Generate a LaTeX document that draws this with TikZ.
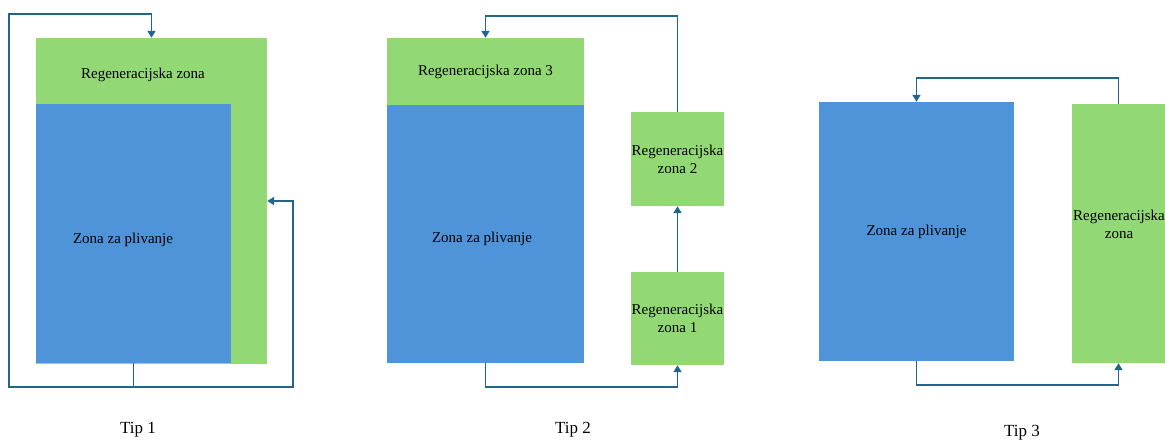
\documentclass[tikz,border=0pt]{standalone}
\usepackage{fontspec}
\setmainfont{Liberation Serif}
\usetikzlibrary{arrows.meta}
\definecolor{poolblue}{RGB}{79,148,217}
\definecolor{reggreen}{RGB}{146,217,117}
\definecolor{pipe}{RGB}{31,102,138}

\begin{document}
\begin{tikzpicture}[x=1pt,y=-1pt,
  pool/.style={fill=poolblue,inner sep=0pt,align=center,font=\fontsize{15}{18}\selectfont},
  reg/.style={fill=reggreen,inner sep=0pt,align=center,font=\fontsize{15}{18}\selectfont},
  txt/.style={inner sep=0pt,align=center,font=\fontsize{15}{18}\selectfont},
  tip/.style={inner sep=0pt,font=\fontsize{17}{20}\selectfont},
  flow/.style={draw=pipe,line width=1.8pt,-{Triangle[length=7pt,width=8pt]}}]
  \useasboundingbox (0,0) rectangle (1165,442);

  % Tip 1
  \node[reg,minimum width=231,minimum height=326] (green1) at (151.5,201) {};
  \node[pool,minimum width=195,minimum height=259] (blue1) at (133.5,233.5) {};
  \node[txt] (regtxt1) at (143,75) {Regeneracijska zona};
  \node[txt] (pooltxt1) at (123,240) {Zona za plivanje};
  \coordinate (j1) at (133.5,387);
  \draw[flow] (blue1.south) -- (j1) -| (9,14) -| (green1.north);
  \draw[flow] (j1) -| (293,201) -- (green1.east);
  \node[tip] (tip1) at (138,430) {Tip 1};

  % Tip 2
  \node[reg,minimum width=197,minimum height=67] (green3) at (485.5,71.5) {Regeneracijska zona 3};
  \node[pool,minimum width=197,minimum height=258] (blue2) at (485.5,234) {};
  \node[txt] (pooltxt2) at (482,239) {Zona za plivanje};
  \node[reg,minimum width=93,minimum height=94] (zone2) at (677.5,159) {Regeneracijska\\zona 2};
  \node[reg,minimum width=93,minimum height=93] (zone1) at (677.5,318.5) {Regeneracijska\\zona 1};
  \draw[flow] (blue2.south) -- (485.5,387) -| (zone1.south);
  \draw[flow] (zone1) -- (zone2);
  \draw[flow] (zone2.north) -- (677.5,16) -| (green3.north);
  \node[tip] (tip2) at (573,430) {Tip 2};

  % Tip 3
  \node[pool,minimum width=195,minimum height=259] (blue3) at (916.5,231.5) {Zona za plivanje};
  \node[reg,minimum width=93,minimum height=259] (green4) at (1118.5,233.5) {};
  \node[txt] (regtxt4) at (1119,224) {Regeneracijska\\zona};
  \draw[flow] (green4.north) -- (1118.5,78) -| (blue3.north);
  \draw[flow] (blue3.south) -- (916.5,385) -| (green4.south);
  \node[tip] (tip3) at (1022,433) {Tip 3};
\end{tikzpicture}
\end{document}
